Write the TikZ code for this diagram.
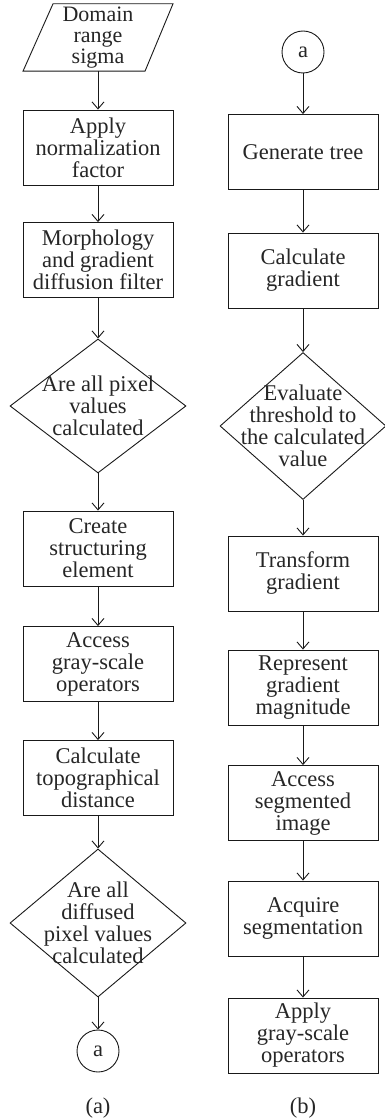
\documentclass[tikz,border=0pt]{standalone}
\usepackage{fontspec}
\setmainfont{Liberation Serif}
\usetikzlibrary{shapes.geometric,arrows.meta}

\tikzstyle{process}=[draw,rectangle,minimum width=150pt,minimum height=75pt,inner sep=0pt,align=center,line width=0.9pt]
\tikzstyle{decision}=[draw,diamond,minimum width=176pt,minimum height=134pt,inner sep=-30pt,align=center,line width=0.9pt]
\tikzstyle{io}=[rectangle,minimum height=67pt,inner sep=0pt,align=center]
\tikzstyle{connector}=[draw,circle,minimum size=42pt,inner sep=0pt,line width=0.9pt]
\tikzstyle{flow}=[draw,line width=0.9pt,-{Straight Barb[length=7pt,width=12pt,line width=0.9pt]}]

\begin{document}
\begin{tikzpicture}[x=1pt,y=-1pt,font=\fontsize{22.5}{22}\selectfont,draw=black!90,text=black!85]
	\useasboundingbox (0,0) rectangle (384,1118);
			% Left flowchart
			\node[io,font=\fontsize{22}{21}\selectfont] (in) at (98,37.5) {Domain\\range\\sigma};
			\draw[line width=0.9pt] ([xshift=-75pt]in.south) -- ([xshift=-45pt]in.north) -- ([xshift=75pt]in.north) -- ([xshift=47pt]in.south) -- cycle;
			\node[process] (norm) at (98,147.5) {Apply\\normalization\\factor};
			\node[process] (filt) at (98,260) {Morphology\\and gradient\\diffusion filter};
			\node[decision] (pix) at (98,406) {Are all pixel\\values\\calculated};
			\node[process] (elem) at (98,548.5) {Create\\structuring\\element};
			\node[process] (gray) at (98,664) {Access\\gray-scale\\operators};
			\node[process] (topo) at (98,778) {Calculate\\topographical\\distance};
			\node[decision,minimum height=148pt] (diff) at (98,923) {Are all\\diffused\\pixel values\\calculated};
			\node[connector] (outa) at (98,1051) {a};
			\node (capa) at (98,1108) {(a)};
			% Right flowchart
			\node[connector] (ina) at (303,52) {a};
			\node[process] (tree) at (303,152) {Generate tree};
			\node[process] (grad) at (303,270.5) {Calculate\\gradient};
			\node[decision,minimum width=166pt,minimum height=147pt] (thr) at (303,426) {Evaluate\\threshold to\\the calculated\\value};
			\node[process] (trans) at (303,573.5) {Transform\\gradient};
			\node[process] (mag) at (303,687.5) {Represent\\gradient\\magnitude};
			\node[process] (seg) at (303,803) {Access\\segmented\\image};
			\node[process] (acq) at (303,918.5) {Acquire\\segmentation};
			\node[process] (app) at (303,1035.5) {Apply\\gray-scale\\operators};
			\node (capb) at (303,1108) {(b)};
	   		 % Connect the steps
	   		\foreach \source/ \dest in {in/norm, norm/filt, filt/pix, pix/elem, elem/gray, gray/topo, topo/diff, diff/outa, ina/tree, tree/grad, grad/thr, thr/trans, trans/mag, mag/seg, seg/acq, acq/app}
	        		\path[flow] (\source) -- (\dest);
\end{tikzpicture}
\end{document}
